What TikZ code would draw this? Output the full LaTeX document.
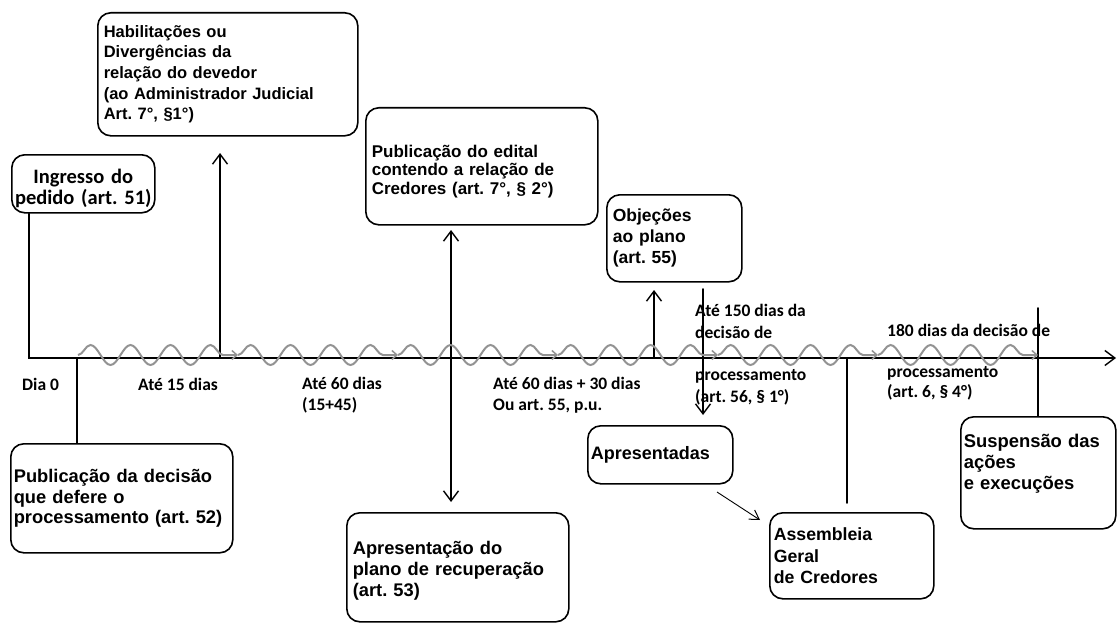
\documentclass[tikz,border=0pt]{standalone}
\usepackage{fontspec}
\setmainfont{Liberation Sans}
\newfontfamily\calfont{Carlito}
\usetikzlibrary{arrows.meta,decorations.pathmorphing}
\frenchspacing
\tikzset{
  box/.style={draw, line width=1.6pt, rounded corners=13pt, anchor=north west,
    inner xsep=5pt, inner ysep=0pt, align=left},
  fs/.style args={#1/#2}{font=\bfseries\fontsize{#1}{#2}\selectfont},
  lbl/.style={font=\calfont\bfseries\fontsize{17.5}{20.5}\selectfont, anchor=base west, inner sep=0pt, align=left},
  ln/.style={line width=1.6pt, line cap=round},
  tip/.style={-{Straight Barb[length=10pt,width=15pt,line width=1.4pt]}},
  wave/.style={draw=gray!85, line width=2pt, decorate,
    decoration={snake, amplitude=10pt, segment length=40pt, post length=3pt},
    -{Straight Barb[length=5pt,width=9pt,line width=1.5pt]}}
}
\begin{document}
\begin{tikzpicture}[x=1pt,y=-1pt]
\useasboundingbox (0,0) rectangle (1118,623);

% boxes
\node[box, align=center, inner xsep=2pt, text width=139, minimum height=58, font=\calfont\bfseries\fontsize{20.5}{21}\selectfont] (ing) at (11,154) {\rule{0pt}{24pt}Ingresso do\\pedido (art. 51)};
\node[box, fs={16.5/20.7}, inner xsep=6pt, text width=248, minimum height=123] (hab) at (97,12)
  {Habilitações ou\\Divergências da\\relação do devedor\\(ao Administrador Judicial\\Art. 7°, §1°)};
\node[box, fs={17/18.5}, inner xsep=6pt, text width=220, minimum height=117] (edi) at (365,107)
  {\rule{0pt}{22pt}Publicação do edital\\contendo a relação de\\Credores (art. 7°, § 2°)};
\node[box, fs={17.5/21}, inner xsep=6pt, text width=123, minimum height=87] (obj) at (606,194)
  {Objeções\\ao plano\\(art. 55)};
\node[box, fs={18.3/20.5}, inner xsep=3pt, text width=216, minimum height=109] (dec) at (10,443)
  {Publicação da decisão\\que defere o\\processamento (art. 52)};
\node[box, fs={18.3/21}, inner xsep=6pt, text width=210, minimum height=109] (apr) at (346,512)
  {\rule{0pt}{20pt}Apresentação do\\plano de recuperação\\(art. 53)};
\node[box, fs={18/20}, inner xsep=3pt, text width=139, minimum height=58] (apt) at (587,425)
  {Apresentadas};
\node[box, fs={17.7/21.5}, inner xsep=4pt, text width=156, minimum height=86] (ass) at (769,512)
  {Assembleia\\Geral\\de Credores};
\node[box, fs={18.4/21}, inner xsep=3pt, text width=149, minimum height=112] (sus) at (960,416)
  {Suspensão das\\ações\\e execuções\\\mbox{}};

% coordinates
\coordinate (tl) at (29,358);
\coordinate (tend) at (1116,358);
\coordinate (d0) at (77,358);
\coordinate (h0) at (220,358);
\coordinate (h1) at (220,153);
\coordinate (e1) at (451,230);
\coordinate (e2) at (451,502);
\coordinate (o0) at (654,358);
\coordinate (o1) at (654,290);
\coordinate (a0) at (703,289);
\coordinate (a1) at (703,415);
\coordinate (s0) at (847,358);
\coordinate (s1) at (847,503);
\coordinate (u0) at (1038,308);
\coordinate (t0) at (717,492);
\coordinate (t1) at (760,520);

% timeline and connectors
\draw[ln, tip] (ing.south -| tl) -- (tl) -- (tend);
\draw[ln] (d0) -- (dec.north -| d0);
\draw[ln, tip] (h0) -- (h1);
\draw[ln, {Straight Barb[length=10pt,width=15pt,line width=1.4pt]}-{Straight Barb[length=10pt,width=15pt,line width=1.4pt]}] (e1) -- (e2);
\draw[ln, tip] (o0) -- (o1);
\draw[ln, tip] (a0) -- (a1);
\draw[ln] (s0) -- (s1);
\draw[ln] (u0) -- (sus.north -| u0);
\draw[line width=0.9pt, -{Straight Barb[length=9pt,width=11pt,line width=1pt]}] (t0) -- (t1);

% wavy gray arrows
\coordinate (w0) at (78,355);
\coordinate (w1) at (238,355);
\coordinate (w2) at (398,355);
\coordinate (w3) at (558,355);
\coordinate (w4) at (718,355);
\coordinate (w5) at (878,355);
\coordinate (w6) at (1038,355);
\draw[wave] (w0) -- (w1);
\draw[wave] (w1) -- (w2);
\draw[wave] (w2) -- (w3);
\draw[wave] (w3) -- (w4);
\draw[wave] (w4) -- (w5);
\draw[wave] (w5) -- (w6);

% labels (base anchor = baseline of the last line)
\node[lbl] (l0) at (22,390) {Dia 0};
\node[lbl] (l1) at (138,390) {Até 15 dias};
\node[lbl] (l2) at (302,410) {Até 60 dias\\(15+45)};
\node[lbl] (l3) at (493,410) {Até 60 dias + 30 dias\\Ou art. 55, p.u.};
\node[lbl, font=\calfont\bfseries\fontsize{17.5}{21.3}\selectfont] (l4) at (695,402) {Até 150 dias da\\decisão de\\[21.3pt]processamento\\(art. 56, § 1°)};
\node[lbl, font=\calfont\bfseries\fontsize{17.5}{19.5}\selectfont] (l5) at (887,397) {180 dias da decisão de\\[22pt]processamento\\(art. 6, § 4°)};
\end{tikzpicture}
\end{document}
